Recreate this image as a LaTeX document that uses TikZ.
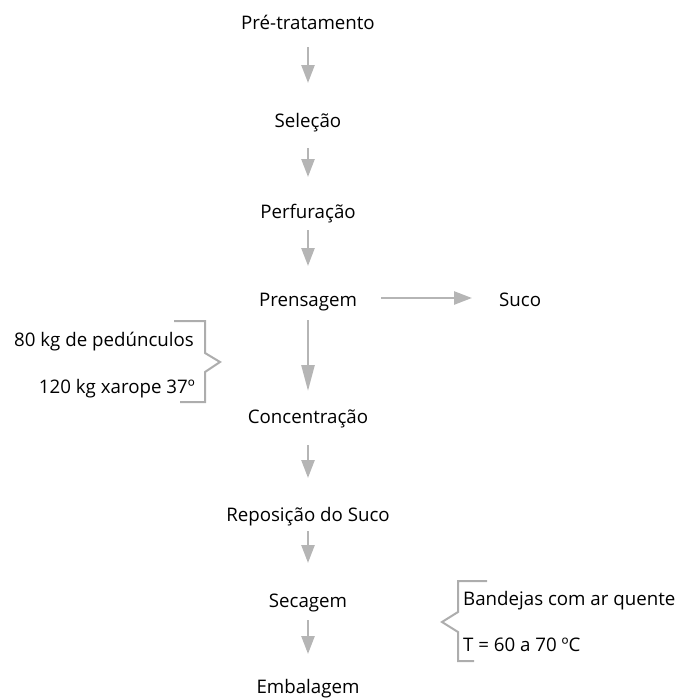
\documentclass[tikz,border=0pt]{standalone}
\usepackage{fontspec}
\setmainfont{Open Sans}
\usetikzlibrary{arrows.meta}
\definecolor{arrgray}{HTML}{B5B5B5}
\definecolor{brgray}{HTML}{ADADAD}
\begin{document}
\begin{tikzpicture}[x=1pt,y=-1pt,
  lbl/.style={inner sep=0pt, font=\fontsize{18.7}{22}\selectfont, text=black},
  arr/.style={draw=arrgray, line width=2.6pt, -{Triangle[length=18pt,width=13pt]}},
  arrlong/.style={draw=arrgray, line width=2.6pt, -{Triangle[length=26pt,width=13pt]}},
  brack/.style={draw=brgray, line width=2pt}]
\useasboundingbox (0,0) rectangle (681,699);
\node[lbl, anchor=base] (pre) at (308,29) {Pré-tratamento};
\node[lbl, anchor=base] (sel) at (308,127) {Seleção};
\node[lbl, anchor=base] (per) at (308,218) {Perfuração};
\node[lbl, anchor=base] (pren) at (308,306) {Prensagem};
\node[lbl, anchor=base west] (suco) at (499,306) {Suco};
\node[lbl, anchor=base] (conc) at (308,423) {Concentração};
\node[lbl, anchor=base] (rep) at (308,521) {Reposição do Suco};
\node[lbl, anchor=base] (sec) at (308,607) {Secagem};
\node[lbl, anchor=base] (emb) at (308,693) {Embalagem};
\node[lbl, anchor=base east] (ped) at (194,346) {80 kg de pedúnculos};
\node[lbl, anchor=base east] (xar) at (195,393) {120 kg xarope 37º};
\node[lbl, anchor=base west] (band) at (463,605) {Bandejas com ar quente};
\node[lbl, anchor=base west] (temp) at (463,651) {T = 60 a 70 ºC};
\draw[arr] ([yshift=-18pt]pre.base) -- ([yshift=44pt]sel.base);
\draw[arr] ([yshift=-21pt]sel.base) -- ([yshift=41pt]per.base);
\draw[arr] ([yshift=-12pt]per.base) -- ([yshift=40pt]pren.base);
\draw[arrlong] ([yshift=-14pt]pren.base) -- ([yshift=32pt]conc.base);
\draw[arr] ([yshift=-22pt]conc.base) -- ([yshift=43pt]rep.base);
\draw[arr] ([yshift=-10pt]rep.base) -- ([yshift=44pt]sec.base);
\draw[arr] ([yshift=-13pt]sec.base) -- ([yshift=39pt]emb.base);
\draw[arr] ([xshift=73pt,yshift=8pt]pren.base) -- ([xshift=-27pt,yshift=8pt]suco.base west);
\draw[brack] (174,321) -- (205,321) -- (205,353) -- (220,362) -- (205,372) -- (205,402) -- (180,402);
\draw[brack] (487,581) -- (458,581) -- (458,612) -- (442,622) -- (458,632) -- (458,661) -- (474,661);
\end{tikzpicture}
\end{document}
